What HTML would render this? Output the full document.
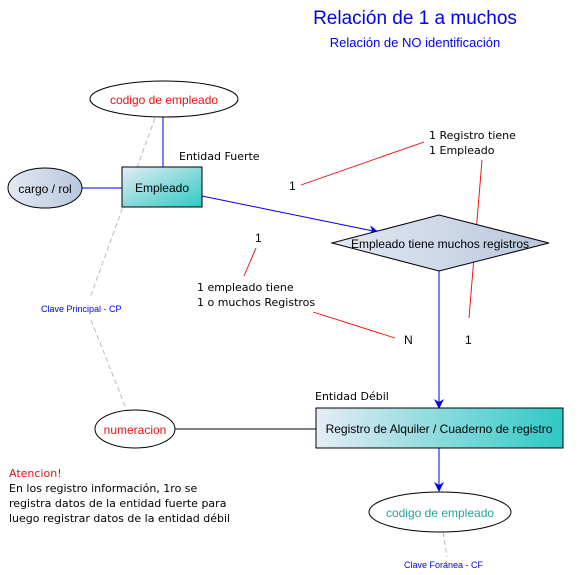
<!DOCTYPE html>
<html><head><meta charset="utf-8"><style>
body{margin:0;background:#fff;}
svg{display:block;font-family:"Liberation Sans",sans-serif;}
.t{font-family:"DejaVu Sans","Liberation Sans",sans-serif;font-size:11px;}
</style></head><body>
<svg width="580" height="575" viewBox="0 0 580 575">
<defs>
<linearGradient id="g1" x1="0" y1="0" x2="1" y2="1"><stop offset="0" stop-color="#e6ecf6"/><stop offset="1" stop-color="#2ec9c4"/></linearGradient>
<linearGradient id="g2" x1="0" y1="0" x2="1" y2="0"><stop offset="0" stop-color="#e6ecf6"/><stop offset="1" stop-color="#2ec9c4"/></linearGradient>
<linearGradient id="g3" x1="0" y1="0" x2="1" y2="0"><stop offset="0" stop-color="#e4e9f2"/><stop offset="1" stop-color="#b7c7de"/></linearGradient>
<marker id="ar" markerWidth="10" markerHeight="10" refX="9" refY="5" orient="auto" markerUnits="userSpaceOnUse"><path d="M0,0 L10,5 L0,10 L3,5 z" fill="#0000ee"/></marker>
</defs>
<rect width="580" height="575" fill="#fff"/>
<text x="415" y="24" font-size="19" fill="#0000ee" text-anchor="middle">Relación de 1 a muchos</text>
<text x="415" y="47" font-size="13" fill="#0000ee" text-anchor="middle">Relación de NO identificación</text>
<!-- gray dashed -->
<polyline points="155,118 90,298" stroke="#bbb" fill="none" stroke-dasharray="5,3"/>
<polyline points="91,320 127,411" stroke="#bbb" fill="none" stroke-dasharray="5,3"/>
<line x1="443" y1="532" x2="447" y2="557" stroke="#bbb" stroke-dasharray="5,3"/>
<!-- connectors -->
<line x1="163" y1="117" x2="163" y2="167" stroke="#0000ee"/>
<line x1="82" y1="188" x2="122" y2="188" stroke="#0000ee"/>
<line x1="202" y1="196" x2="378" y2="232" stroke="#0000ee" marker-end="url(#ar)"/>
<line x1="439" y1="271" x2="439" y2="408" stroke="#0000ee" marker-end="url(#ar)"/>
<line x1="439" y1="448" x2="439" y2="491" stroke="#0000ee" marker-end="url(#ar)"/>
<line x1="175" y1="429" x2="316" y2="429" stroke="#000"/>
<!-- red -->
<line x1="301" y1="185" x2="424" y2="142" stroke="#e00" stroke-width="0.9"/>
<line x1="482" y1="160" x2="469" y2="318" stroke="#e00" stroke-width="0.9"/>
<line x1="256" y1="248" x2="244" y2="276" stroke="#e00" stroke-width="0.9"/>
<line x1="313" y1="312" x2="395" y2="338" stroke="#e00" stroke-width="0.9"/>
<!-- shapes -->
<ellipse cx="164" cy="99" rx="74" ry="18" fill="#fff" stroke="#000"/>
<text x="164" y="104" font-size="12" fill="#ee1111" text-anchor="middle">codigo de empleado</text>
<ellipse cx="45" cy="188" rx="37" ry="20" fill="url(#g3)" stroke="#000"/>
<text x="45" y="193" font-size="12" text-anchor="middle">cargo / rol</text>
<rect x="122" y="167" width="80" height="40" fill="url(#g1)" stroke="#000"/>
<text x="162" y="192" font-size="12" text-anchor="middle">Empleado</text>
<text class="t" x="179" y="160">Entidad Fuerte</text>
<polygon points="332,243 439,215 549,243 439,271" fill="url(#g3)" stroke="#000"/>
<text x="440" y="248" font-size="12" text-anchor="middle">Empleado tiene muchos registros</text>
<rect x="316" y="408" width="247" height="40" fill="url(#g2)" stroke="#000"/>
<text x="439" y="433" font-size="12" text-anchor="middle">Registro de Alquiler / Cuaderno de registro</text>
<text class="t" x="315" y="400">Entidad Débil</text>
<ellipse cx="135" cy="429" rx="40" ry="19" fill="#fff" stroke="#000"/>
<text x="135" y="434" font-size="12" fill="#ee1111" text-anchor="middle">numeracion</text>
<ellipse cx="440" cy="512" rx="71" ry="20" fill="#fff" stroke="#000"/>
<text x="440" y="517" font-size="12" fill="#22a39a" text-anchor="middle">codigo de empleado</text>
<!-- labels -->
<text class="t" x="429" y="139">1 Registro tiene</text>
<text class="t" x="429" y="154">1 Empleado</text>
<text x="289" y="190" font-size="12">1</text>
<text x="255" y="242" font-size="12">1</text>
<text class="t" x="197" y="291">1 empleado tiene</text>
<text class="t" x="197" y="306">1 o muchos Registros</text>
<text x="404" y="344" font-size="12">N</text>
<text x="465" y="344" font-size="12">1</text>
<text x="41" y="312" font-size="9" fill="#0000ee">Clave Principal - CP</text>
<text x="404" y="568" font-size="9" fill="#0000ee">Clave Foránea - CF</text>
<text class="t" x="9" y="477" fill="#ee1111">Atencion!</text>
<text class="t" x="9" y="492">En los registro información, 1ro se</text>
<text class="t" x="9" y="507">registra datos de la entidad fuerte para</text>
<text class="t" x="9" y="522">luego registrar datos de la entidad débil</text>
</svg>
</body></html>
